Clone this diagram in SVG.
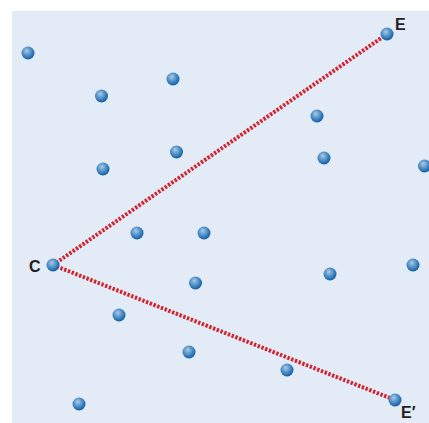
<svg xmlns="http://www.w3.org/2000/svg" width="429" height="423" viewBox="0 0 429 423">
<defs>
<radialGradient id="ball" cx="0.42" cy="0.38" r="0.62" fx="0.4" fy="0.32">
<stop offset="0" stop-color="#a9cbe6"/>
<stop offset="0.55" stop-color="#4f8ec6"/>
<stop offset="1" stop-color="#0f5ea6"/>
</radialGradient>
<style>
.b{fill:url(#ball)}
.lbl{font-family:"Liberation Sans",Arial,sans-serif;font-size:16px;font-weight:bold;fill:#231f20}
.ray{stroke:#d2232f;stroke-width:4;stroke-dasharray:2.4 1.6;fill:none}
</style>
</defs>
<rect x="12" y="11" width="417" height="412" fill="#e3ebf6"/>
<g id="connectors">
<line class="ray" x1="53" y1="265" x2="387" y2="34"/>
<line class="ray" x1="53" y1="265" x2="395" y2="400"/>
</g>
<g id="points">
<circle class="b" cx="28" cy="53" r="6.5"/>
<circle class="b" cx="173" cy="79" r="6.5"/>
<circle class="b" cx="101.5" cy="96" r="6.5"/>
<circle class="b" cx="317" cy="116" r="6.5"/>
<circle class="b" cx="103" cy="169" r="6.5"/>
<circle class="b" cx="176.5" cy="152" r="6.5"/>
<circle class="b" cx="324" cy="158" r="6.5"/>
<circle class="b" cx="424.5" cy="166" r="6.5"/>
<circle class="b" cx="137" cy="233" r="6.5"/>
<circle class="b" cx="204" cy="233" r="6.5"/>
<circle class="b" cx="330" cy="274" r="6.5"/>
<circle class="b" cx="413" cy="265" r="6.5"/>
<circle class="b" cx="195.5" cy="283" r="6.5"/>
<circle class="b" cx="119" cy="315" r="6.5"/>
<circle class="b" cx="189" cy="352" r="6.5"/>
<circle class="b" cx="287" cy="370" r="6.5"/>
<circle class="b" cx="79" cy="404" r="6.5"/>
</g>
<g id="node-C">
<circle class="b" cx="53" cy="265" r="6.5"/>
<text class="lbl" x="29" y="272">C</text>
</g>
<g id="node-E">
<circle class="b" cx="387" cy="34" r="6.5"/>
<text class="lbl" x="395" y="30">E</text>
</g>
<g id="node-E2">
<circle class="b" cx="395" cy="400" r="6.5"/>
<text class="lbl" x="401" y="418">E′</text>
</g>
</svg>
